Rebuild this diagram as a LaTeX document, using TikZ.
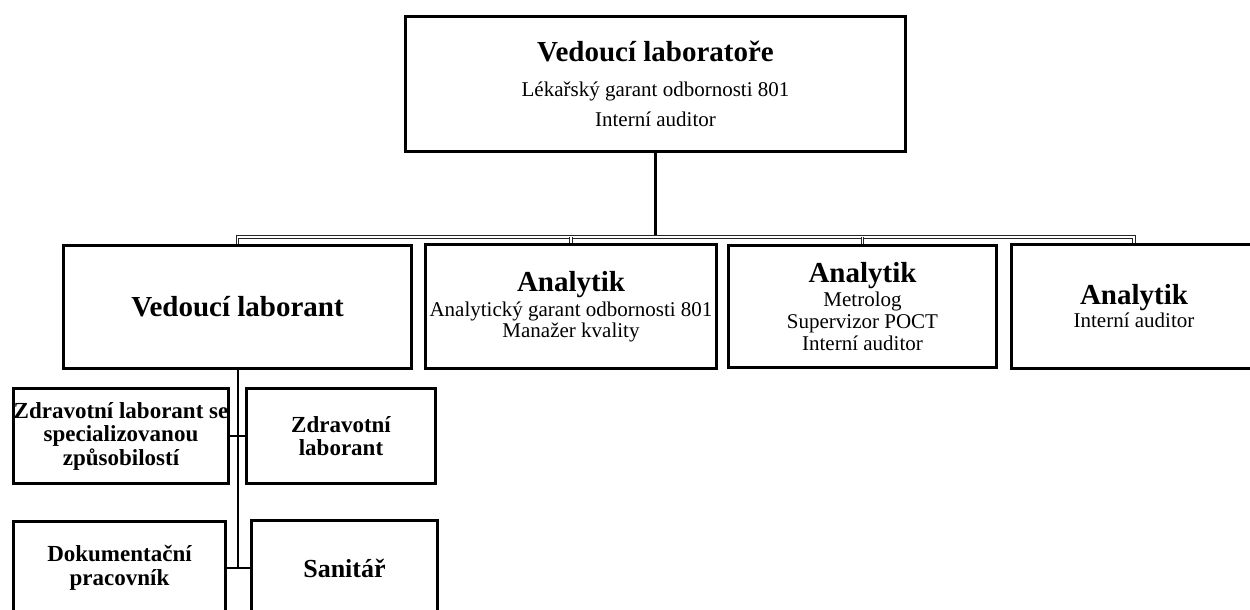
\documentclass[tikz,border=0pt]{standalone}
\usepackage{fontspec}
\setmainfont{Liberation Serif}
\usetikzlibrary{backgrounds}
\newcommand\subfont{\fontsize{21}{22}\selectfont}
\newcommand\bigtitle{\fontsize{29}{29}\selectfont\bfseries}
\begin{document}
\begin{tikzpicture}[x=1pt,y=-1pt,
  box/.style={draw=black, line width=3pt, inner sep=0pt, align=center, rectangle},
  lowbox/.style={box, font=\fontsize{23}{23.5}\selectfont\bfseries},
  trunk/.style={draw=black, line width=2.5pt},
  bus/.style={draw=black!85, line width=0.9pt, double=white, double distance=1.8pt},
  vlink/.style={draw=black, line width=2pt},
  hlink/.style={draw=black, line width=1.5pt},
]
\useasboundingbox (0,0) rectangle (1250,610);
\clip (0,0) rectangle (1250,610);

% top
\node[box, minimum width=500, minimum height=135, font=\fontsize{21}{30}\selectfont] (top) at (655.5,84)
  {{\bigtitle Vedoucí laboratoře}\\[5pt]Lékařský garant odbornosti 801\\Interní auditor};

% second level
\node[box, minimum width=348, minimum height=123, font=\fontsize{29}{30}\selectfont\bfseries] (vl) at (237.5,307)
  {Vedoucí laborant};
\node[box, minimum width=291, minimum height=124, font=\fontsize{21}{21.5}\selectfont] (a1) at (571,306.5)
  {{\bigtitle Analytik}\\[3.5pt]Analytický garant odbornosti 801\\Manažer kvality};
\node[box, minimum width=268, minimum height=122, font=\subfont] (a2) at (862.5,306.5)
  {{\bigtitle Analytik}\\[2pt]Metrolog\\Supervizor POCT\\Interní auditor};
\node[box, minimum width=245, minimum height=124, font=\subfont] (a3) at (1134,306.5)
  {{\bigtitle Analytik}\\[1pt]Interní auditor};

% lower level
\node[lowbox, minimum width=215, minimum height=95] (zls) at (121,436)
  {Zdravotní laborant se\\specializovanou\\způsobilostí};
\node[lowbox, minimum width=189, minimum height=95] (zl) at (341,436)
  {Zdravotní\\laborant};
\node[lowbox, minimum width=212, minimum height=93] (dp) at (119.5,568)
  {Dokumentační\\pracovník};
\node[box, minimum width=186, minimum height=95, font=\fontsize{26}{26}\selectfont\bfseries] (san) at (344.5,568)
  {Sanitář};

\coordinate (busy) at (0,237);

\begin{pgfonlayer}{background}
  \draw[trunk] (top.south) -- (top.south |- busy);
  \draw[bus] (vl.north) -- (vl.north |- busy) -- (a3.north |- busy) -- (a3.north);
  \draw[bus] (a1.north |- busy) -- (a1.north);
  \draw[bus] (a2.north |- busy) -- (a2.north);
  \draw[vlink] (vl.south) -- (vl.south |- dp.east);
  \draw[hlink] (zls.east) -- (zl.west);
  \draw[hlink] (dp.east) -- (san.west);
\end{pgfonlayer}
\end{tikzpicture}
\end{document}
